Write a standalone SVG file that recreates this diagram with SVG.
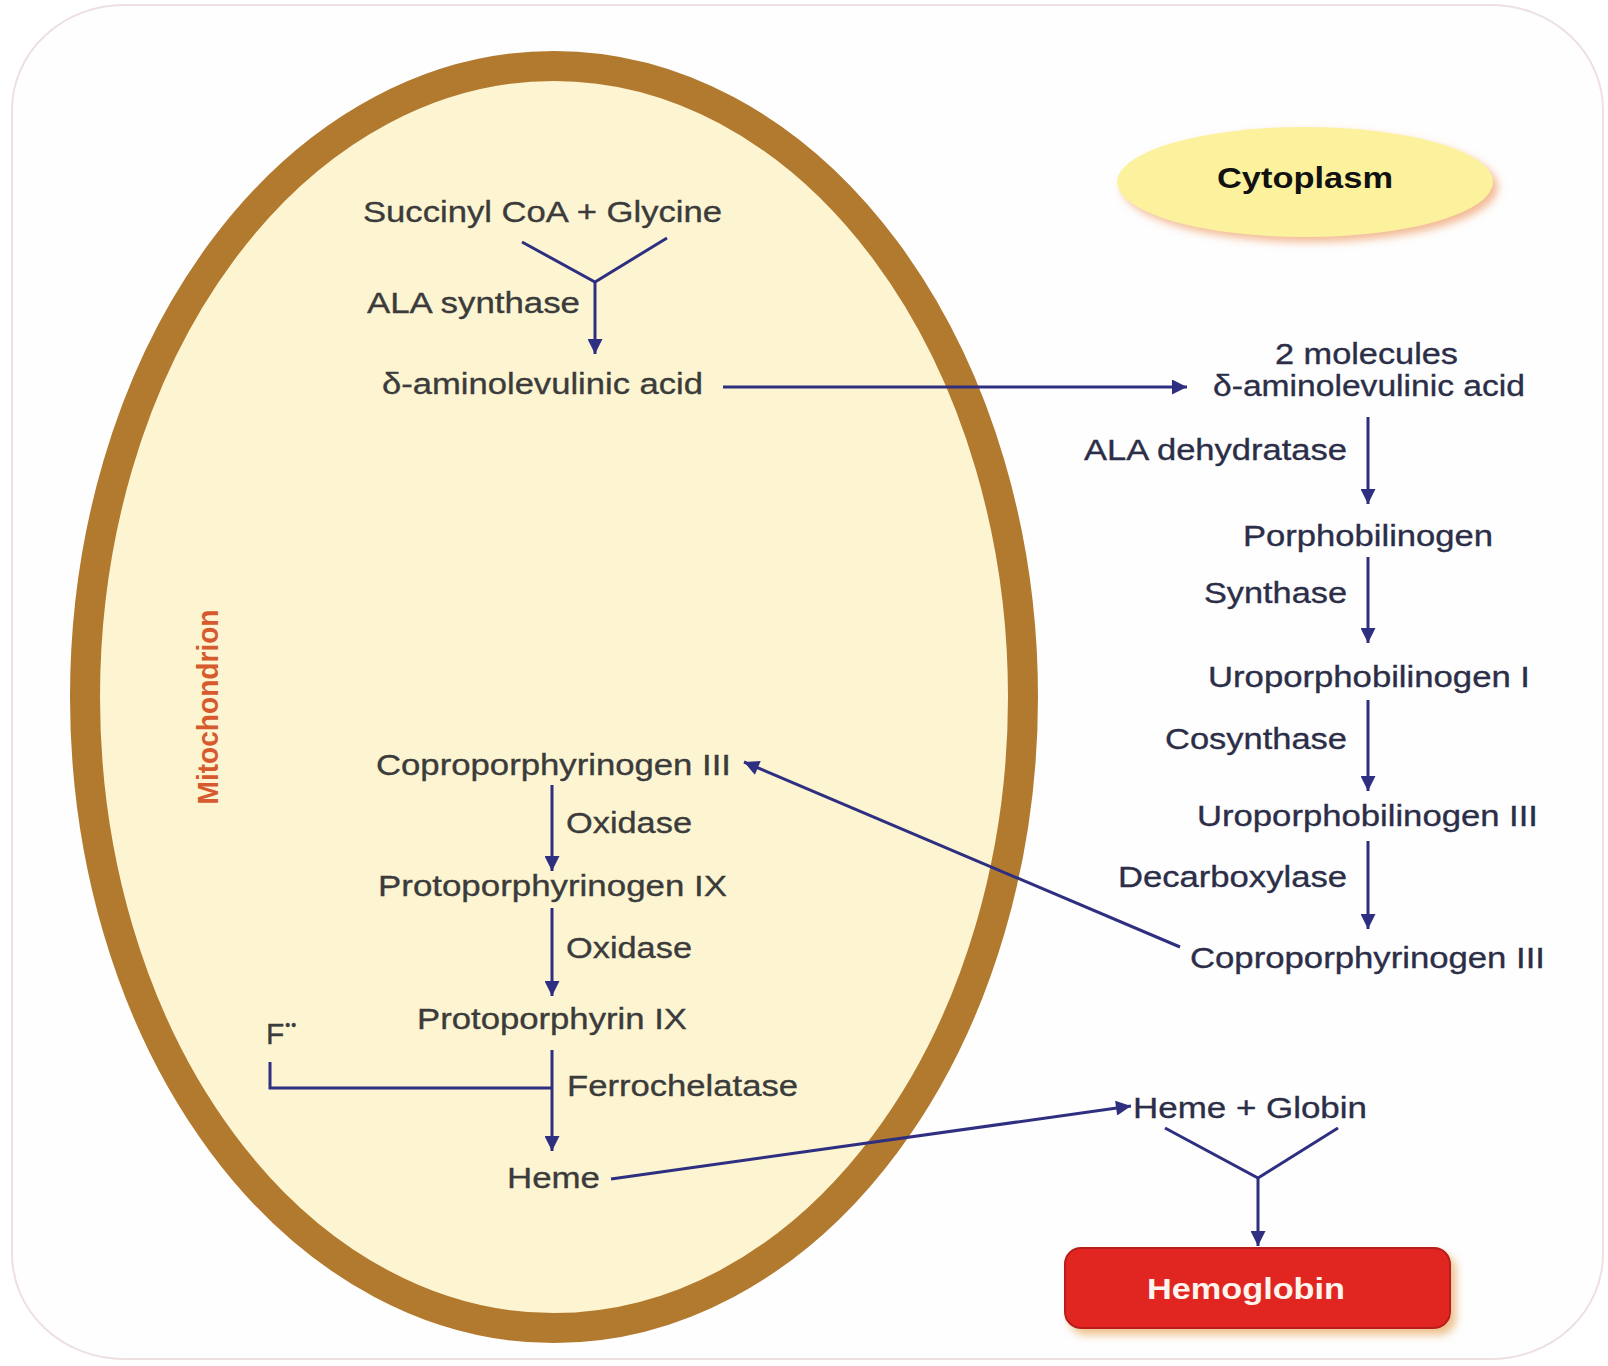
<svg xmlns="http://www.w3.org/2000/svg" width="1608" height="1366" viewBox="0 0 1608 1366">
<style>
.t{font-family:"Liberation Sans",Arial,sans-serif;font-size:30px;fill:#3b3b3b;stroke:#3b3b3b;stroke-width:0.35px}
.r{fill:#2c2e48;stroke:#2c2e48}
.c{fill:none;stroke:#2e2f80;stroke-width:3}
</style>
<defs>
<marker id="ah" viewBox="0 0 10 10" refX="10" refY="5" markerWidth="16" markerHeight="15" markerUnits="userSpaceOnUse" orient="auto">
<path d="M0,0 L10,5 L0,10 z" fill="#2e2f80"/>
</marker>
<filter id="sh" x="-20%" y="-30%" width="140%" height="170%">
<feDropShadow dx="5" dy="5" stdDeviation="4" flood-color="#f0a878" flood-opacity="0.8"/>
</filter>
<filter id="sh2" x="-20%" y="-30%" width="140%" height="170%">
<feDropShadow dx="5" dy="6" stdDeviation="4" flood-color="#e8b070" flood-opacity="0.8"/>
</filter>
</defs>
<rect width="1608" height="1366" fill="#ffffff"/>
<rect x="12" y="5" width="1591" height="1354" rx="112" ry="105" fill="#fefefe" stroke="#eee0e0" stroke-width="2"/>

<g id="mitochondrion">
<ellipse cx="554" cy="697" rx="469" ry="631" fill="#fdf5d2" stroke="#b27a2e" stroke-width="30"/>
<text class="t" x="0" y="0" transform="translate(218,707) rotate(-90)" text-anchor="middle" font-weight="bold" style="fill:#d65a2e;stroke:none" textLength="195" lengthAdjust="spacingAndGlyphs">Mitochondrion</text>
</g>

<g id="cytoplasm">
<ellipse cx="1305" cy="182" rx="188" ry="55" fill="#fcf29e" filter="url(#sh)"/>
<text class="t" x="1217" y="188" font-weight="bold" style="fill:#111;stroke:none" textLength="176" lengthAdjust="spacingAndGlyphs">Cytoplasm</text>
</g>

<g id="succinyl"><text class="t" x="363" y="222" textLength="359" lengthAdjust="spacingAndGlyphs">Succinyl CoA + Glycine</text></g>
<g id="ala-synthase"><text class="t" x="367" y="313" textLength="213" lengthAdjust="spacingAndGlyphs">ALA synthase</text></g>
<g id="ala-mito"><text class="t" x="382" y="394" textLength="321" lengthAdjust="spacingAndGlyphs">δ-aminolevulinic acid</text></g>
<g id="copro-mito"><text class="t" x="376" y="775" textLength="355" lengthAdjust="spacingAndGlyphs">Coproporphyrinogen III</text></g>
<g id="oxidase1"><text class="t" x="566" y="833" textLength="126" lengthAdjust="spacingAndGlyphs">Oxidase</text></g>
<g id="protogen"><text class="t" x="378" y="896" textLength="349" lengthAdjust="spacingAndGlyphs">Protoporphyrinogen IX</text></g>
<g id="oxidase2"><text class="t" x="566" y="958" textLength="126" lengthAdjust="spacingAndGlyphs">Oxidase</text></g>
<g id="protoporphyrin"><text class="t" x="417" y="1029" textLength="270" lengthAdjust="spacingAndGlyphs">Protoporphyrin IX</text></g>
<g id="fe"><text class="t" x="266" y="1044">F<tspan font-size="14" dx="1" dy="-14" letter-spacing="1">••</tspan></text></g>
<g id="ferrochelatase"><text class="t" x="567" y="1096" textLength="231" lengthAdjust="spacingAndGlyphs">Ferrochelatase</text></g>
<g id="heme"><text class="t" x="507" y="1188" textLength="93" lengthAdjust="spacingAndGlyphs">Heme</text></g>

<g id="ala-cyto"><text class="t r" x="1275" y="364" textLength="183" lengthAdjust="spacingAndGlyphs">2 molecules</text><text class="t r" x="1213" y="396" textLength="312" lengthAdjust="spacingAndGlyphs">δ-aminolevulinic acid</text></g>
<g id="ala-dehydratase"><text class="t r" x="1084" y="460" textLength="263" lengthAdjust="spacingAndGlyphs">ALA dehydratase</text></g>
<g id="porphobilinogen"><text class="t r" x="1243" y="546" textLength="250" lengthAdjust="spacingAndGlyphs">Porphobilinogen</text></g>
<g id="synthase"><text class="t r" x="1204" y="603" textLength="143" lengthAdjust="spacingAndGlyphs">Synthase</text></g>
<g id="uro1"><text class="t r" x="1208" y="687" textLength="322" lengthAdjust="spacingAndGlyphs">Uroporphobilinogen I</text></g>
<g id="cosynthase"><text class="t r" x="1165" y="749" textLength="182" lengthAdjust="spacingAndGlyphs">Cosynthase</text></g>
<g id="uro3"><text class="t r" x="1197" y="826" textLength="341" lengthAdjust="spacingAndGlyphs">Uroporphobilinogen III</text></g>
<g id="decarboxylase"><text class="t r" x="1118" y="887" textLength="229" lengthAdjust="spacingAndGlyphs">Decarboxylase</text></g>
<g id="copro-cyto"><text class="t r" x="1190" y="968" textLength="355" lengthAdjust="spacingAndGlyphs">Coproporphyrinogen III</text></g>
<g id="heme-globin"><text class="t r" x="1133" y="1118" textLength="234" lengthAdjust="spacingAndGlyphs">Heme + Globin</text></g>

<g id="hemoglobin">
<rect x="1065" y="1248" width="385" height="80" rx="16" fill="#e12824" stroke="#b81a1c" stroke-width="2" filter="url(#sh2)"/>
<text class="t" x="1147" y="1299" font-weight="bold" style="fill:#fff4ee;stroke:none" textLength="198" lengthAdjust="spacingAndGlyphs">Hemoglobin</text>
</g>

<g id="connectors">
<polyline class="c" points="522,242 595,282 667,238"/>
<line class="c" x1="595" y1="282" x2="595" y2="354" marker-end="url(#ah)"/>
<line class="c" x1="723" y1="387" x2="1187" y2="387" marker-end="url(#ah)"/>
<line class="c" x1="1368" y1="417" x2="1368" y2="504" marker-end="url(#ah)"/>
<line class="c" x1="1368" y1="557" x2="1368" y2="643" marker-end="url(#ah)"/>
<line class="c" x1="1368" y1="700" x2="1368" y2="791" marker-end="url(#ah)"/>
<line class="c" x1="1368" y1="841" x2="1368" y2="929" marker-end="url(#ah)"/>
<line class="c" x1="1180" y1="947" x2="744" y2="762" marker-end="url(#ah)"/>
<line class="c" x1="552" y1="785" x2="552" y2="871" marker-end="url(#ah)"/>
<line class="c" x1="552" y1="908" x2="552" y2="996" marker-end="url(#ah)"/>
<line class="c" x1="552" y1="1050" x2="552" y2="1151" marker-end="url(#ah)"/>
<polyline class="c" points="270,1062 270,1088 552,1088"/>
<line class="c" x1="611" y1="1179" x2="1131" y2="1106" marker-end="url(#ah)"/>
<polyline class="c" points="1165,1128 1258,1178 1338,1128"/>
<line class="c" x1="1258" y1="1178" x2="1258" y2="1246" marker-end="url(#ah)"/>
</g>
</svg>
